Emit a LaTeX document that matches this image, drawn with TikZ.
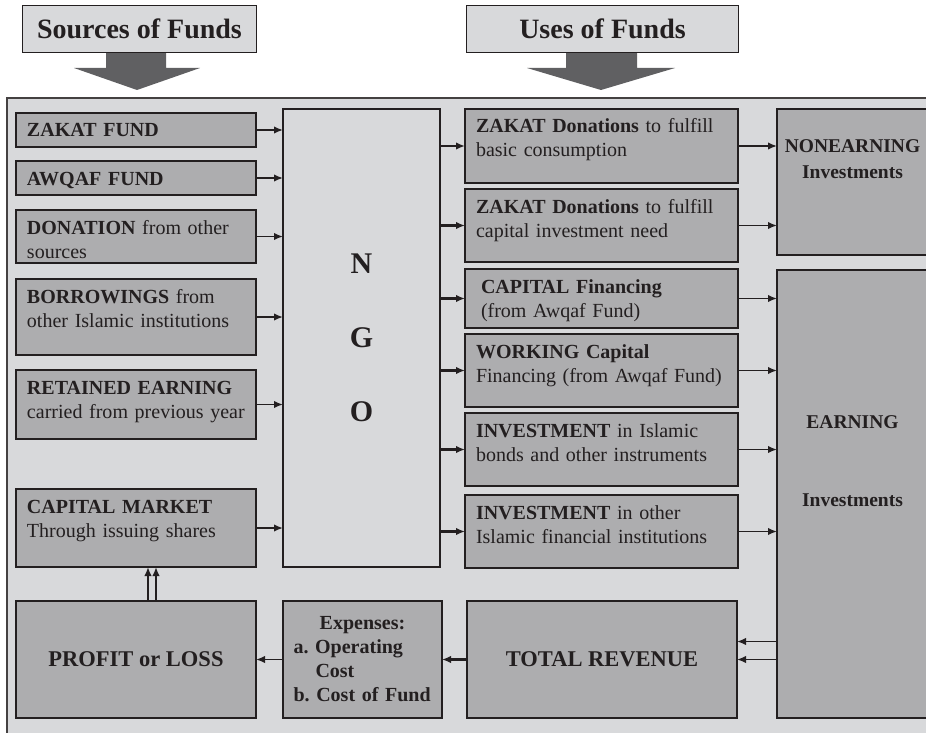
\documentclass[tikz,border=0pt]{standalone}
\usepackage{fontspec}
\setmainfont{Liberation Serif}
\usepackage{xcolor}
\usepackage{tikz}
\usetikzlibrary{arrows.meta, positioning}
\frenchspacing

\definecolor{framegrey}{RGB}{216,217,219}
\definecolor{boxgrey}{RGB}{173,173,175}
\definecolor{inkgrey}{RGB}{35,31,32}
\definecolor{arrowgrey}{RGB}{96,96,98}

\begin{document}
\begin{tikzpicture}[
  x=1pt, y=-1pt,
  node distance=15pt,
  frame/.style={draw=inkgrey!85, line width=2pt, fill=framegrey},
  headbox/.style={draw=inkgrey, line width=1pt, fill=framegrey, text=inkgrey, font=\bfseries\fontsize{28pt}{32pt}\selectfont, minimum height=47pt},
  fundbox/.style={draw=inkgrey, line width=1.8pt, outer sep=0pt, fill=boxgrey, text=inkgrey, align=left, text width=#1, inner xsep=11pt, inner ysep=6pt, text height=18pt, font=\fontsize{20pt}{24pt}\selectfont},
  sourcebox/.style={fundbox=218pt},
  usesbox/.style={fundbox=251pt},
  ngobox/.style={draw=inkgrey, line width=1.8pt, outer sep=0pt, fill=framegrey, text=inkgrey, align=center, minimum width=157pt, minimum height=458pt, font=\bfseries\fontsize{30pt}{36pt}\selectfont},
  invbox/.style={draw=inkgrey, line width=1.8pt, outer sep=0pt, fill=boxgrey, text=inkgrey, align=center, text width=143pt, inner xsep=4pt, inner ysep=6pt, font=\bfseries\fontsize{19.5pt}{25pt}\selectfont},
  flowbox/.style={draw=inkgrey, line width=1.8pt, outer sep=0pt, fill=boxgrey, text=inkgrey, align=center, minimum height=117pt, font=\bfseries\fontsize{22.5pt}{26pt}\selectfont},
  arrow/.style={-{Latex[length=9pt, width=7.5pt]}, line width=1.7pt, draw=inkgrey},
  thickarrow/.style={arrow, line width=2.6pt}
]
  \useasboundingbox (0,0) rectangle (926,733);
  \clip (0,0) rectangle (926,733);

  % outer frame and headings
  \draw[frame] (7,98) rectangle (950,760);
  \fill[arrowgrey] (106,52) -- (166,52) -- (166,68) -- (200,68) -- (137,90) -- (74,68) -- (106,68) -- cycle;
  \fill[arrowgrey] (566,52) -- (637,52) -- (637,68) -- (675,68) -- (601,90) -- (527,68) -- (566,68) -- cycle;
  \node[headbox, minimum width=234pt, anchor=north west] (srchead) at (22,5) {Sources of Funds};
  \node[headbox, minimum width=272pt, anchor=north west] (usehead) at (466,5) {Uses of Funds};

  % sources
  \node[sourcebox, anchor=north west, text depth=4pt] (zakat) at (16,113) {\textbf{ZAKAT FUND}};
  \node[sourcebox, below=14pt of zakat, text depth=4pt] (awqaf) {\textbf{AWQAF FUND}};
  \node[sourcebox, below=15pt of awqaf, text depth=23pt] (donation) {\textbf{DONATION} from other\\sources};
  \node[sourcebox, below=16pt of donation, text depth=46pt] (borrow) {\textbf{BORROWINGS} from\\other Islamic institutions};
  \node[sourcebox, below=15pt of borrow, text depth=39pt] (retained) {\textbf{RETAINED EARNING}\\carried from previous year};
  \node[sourcebox, below=50pt of retained, text depth=48pt] (capmkt) {\textbf{CAPITAL MARKET}\\Through issuing shares};

  \node[ngobox, anchor=north west] (ngo) at (283,109) {N\\[38pt]G\\[38pt]O};

  % uses
  \node[usesbox, anchor=north west, text depth=44pt] (zakatcons) at (465,109) {\textbf{ZAKAT Donations} to fulfill\\basic consumption};
  \node[usesbox, below=6pt of zakatcons, text depth=43pt] (zakatinv) {\textbf{ZAKAT Donations} to fulfill\\capital investment need};
  \node[usesbox, below=7pt of zakatinv, text depth=29pt] (capfin) {\hspace*{5pt}\textbf{CAPITAL Financing}\\\hspace*{5pt}(from Awqaf Fund)};
  \node[usesbox, below=6pt of capfin, text depth=43pt] (workfin) {\textbf{WORKING Capital}\\Financing (from Awqaf Fund)};
  \node[usesbox, below=6pt of workfin, text depth=43pt] (bonds) {\textbf{INVESTMENT} in Islamic\\bonds and other instruments};
  \node[usesbox, below=9pt of bonds, text depth=43pt] (otherinst) {\textbf{INVESTMENT} in other\\Islamic financial institutions};

  \node[invbox, anchor=north west, text height=38pt, text depth=96pt] (nonearn) at (777,109) {NONEARNING\\Investments};
  \node[invbox, below=15pt of nonearn, text height=152pt, text depth=284pt] (earning) {EARNING\\[53pt]Investments};

  % bottom row
  \node[flowbox, below=34pt of capmkt, minimum width=240pt] (profit) {PROFIT or LOSS};
  \node[flowbox, right=27pt of profit, minimum width=159pt, text width=138pt, align=left, font=\bfseries\fontsize{20pt}{24pt}\selectfont] (expenses) {\makebox[\linewidth]{Expenses:}\\a. Operating\\\hspace*{22pt}Cost\\b. Cost of Fund};
  \node[flowbox, right=25pt of expenses, minimum width=270pt] (total) {TOTAL REVENUE};

  \draw[arrow] (zakat.east) -- (zakat.east -| ngo.west);
  \draw[arrow] (awqaf.east) -- (awqaf.east -| ngo.west);
  \draw[arrow] (donation.east) -- (donation.east -| ngo.west);
  \draw[arrow] (borrow.east) -- (borrow.east -| ngo.west);
  \draw[arrow] (retained.east) -- (retained.east -| ngo.west);
  \draw[arrow] (capmkt.east) -- (capmkt.east -| ngo.west);

  \draw[thickarrow] (zakatcons.west -| ngo.east) -- (zakatcons.west);
  \draw[thickarrow] (zakatinv.west -| ngo.east) -- (zakatinv.west);
  \draw[thickarrow] (capfin.west -| ngo.east) -- (capfin.west);
  \draw[thickarrow] (workfin.west -| ngo.east) -- (workfin.west);
  \draw[thickarrow] (bonds.west -| ngo.east) -- (bonds.west);
  \draw[thickarrow] (otherinst.west -| ngo.east) -- (otherinst.west);

  \draw[arrow] (zakatcons.east) -- (zakatcons.east -| nonearn.west);
  \draw[arrow] (zakatinv.east) -- (zakatinv.east -| nonearn.west);
  \draw[arrow] (capfin.east) -- (capfin.east -| earning.west);
  \draw[arrow] (workfin.east) -- (workfin.east -| earning.west);
  \draw[arrow] (bonds.east) -- (bonds.east -| earning.west);
  \draw[arrow] (otherinst.east) -- (otherinst.east -| earning.west);

  \draw[arrow] ([yshift=18pt]total.east -| earning.west) -- ([yshift=18pt]total.east);
  \draw[arrow] (total.east -| earning.west) -- (total.east);
  \draw[thickarrow] (total.west) -- (expenses.east);
  \draw[arrow] (expenses.west) -- (expenses.west -| profit.east);
  \draw[arrow] ([xshift=12pt]profit.north) -- ([xshift=12pt]profit.north |- capmkt.south);
  \draw[arrow] ([xshift=20pt]profit.north) -- ([xshift=20pt]profit.north |- capmkt.south);
\end{tikzpicture}
\end{document}
